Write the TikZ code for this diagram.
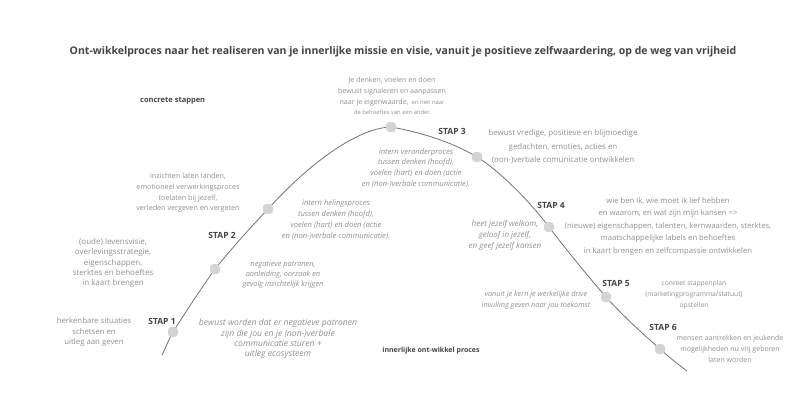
\documentclass[tikz,border=0pt]{standalone}
\usepackage{fontspec}
\setmainfont{Open Sans}
\definecolor{txt}{RGB}{145,145,145}
\definecolor{lbl}{RGB}{68,68,68}
\definecolor{crv}{RGB}{115,115,115}
\definecolor{dotc}{RGB}{212,212,212}
\newcommand{\fs}[2]{\fontsize{#1}{#2}\selectfont}
\begin{document}
\begin{tikzpicture}[x=1pt,y=-1pt,
  body/.style={text=txt, align=center, inner sep=0pt},
  it/.style={text=txt, align=center, inner sep=0pt, font=\itshape},
  lab/.style={text=lbl, font=\fontsize{8.5}{10}\selectfont\bfseries, inner sep=0pt},
  ttl/.style={text=lbl, font=\fontsize{10.5}{12}\selectfont\bfseries, inner sep=0pt},
  dotbox/.style={rectangle, rounded corners=3.5pt, fill=dotc, minimum size=10pt, inner sep=0pt},
  curve/.style={draw=crv, line width=0.8pt}]
\useasboundingbox (0,0) rectangle (800,400);
\fill[white] (0,0) rectangle (800,400);
% curve points
\coordinate (c0) at (162,355);
\coordinate (p1) at (173,332);
\coordinate (p2) at (215,269);
\coordinate (p3) at (268,209);
\coordinate (p4) at (391,127);
\coordinate (p5) at (477,157);
\coordinate (p6) at (549,227);
\coordinate (p7) at (606,297);
\coordinate (p8) at (660,349);
\coordinate (c9) at (687,371);
\draw[curve] (c0) .. controls (166,347) and (169,339) .. (p1)
  .. controls (187,310) and (200,290) .. (p2)
  .. controls (232,248) and (250,228) .. (p3)
  .. controls (305,168) and (355,128) .. (p4)
  .. controls (420,132) and (452,142) .. (p5)
  .. controls (497,169) and (528,199) .. (p6)
  .. controls (568,252) and (587,275) .. (p7)
  .. controls (625,318) and (642,333) .. (p8)
  .. controls (670,358) and (679,365) .. (c9);
\foreach \i in {1,...,8} \node[dotbox] (d\i) at (p\i) {};
% title and headings
\node[ttl] (title) at (403,52) {Ont-wikkelproces naar het realiseren van je innerlijke missie en visie, vanuit je positieve zelfwaardering, op de weg van vrijheid};
\node[lab, font=\fontsize{7.5}{9}\selectfont\bfseries, anchor=west] (conc) at (140,101) {concrete stappen};
\node[lab, font=\fontsize{7}{9}\selectfont\bfseries] (inner) at (431,351) {innerlijke ont-wikkel proces};
% STAP labels
\node[lab] (s1) at (162,321) {STAP 1};
\node[lab] (s2) at (222,235) {STAP 2};
\node[lab] (s3) at (452,131) {STAP 3};
\node[lab] (s4) at (551,205) {STAP 4};
\node[lab] (s5) at (616,283) {STAP 5};
\node[lab] (s6) at (663,327) {STAP 6};
% texts
\node[body, font=\fs{7.1}{10.7}] (t0) at (392,96) {Je denken, voelen en doen\\bewust signaleren en aanpassen\\naar je eigenwaarde, {\fs{5.8}{7} en niet naar}\\{\fs{5.8}{7} de behoeftes van een ander.}};
\node[body, font=\fs{7.9}{13.5}] (t3) at (563,147) {bewust vredige, positieve en blijmoedige\\gedachten, emoties, acties en\\(non-)verbale comunicatie ontwikkelen};
\node[it, font=\fs{7.6}{10.7}\itshape] (i3) at (416,168) {intern veranderproces\\tussen denken (hoofd),\\voelen (hart) en doen (actie\\en (non-)verbale communicatie).};
\node[body, font=\fs{7.2}{10.7}] (t2b) at (188,193) {inzichten laten landen,\\emotioneel verwerkingsproces\\toelaten bij jezelf,\\verleden vergeven en vergeten};
\node[it, font=\fs{7.6}{11}\itshape] (i2b) at (336,220) {intern helingsproces\\tussen denken (hoofd),\\voelen (hart) en doen (actie\\en (non-)verbale communicatie).};
\node[body, font=\fs{8}{10.2}] (t2) at (113,263) {(oude) levensvisie,\\overlevingsstrategie,\\eigenschappen,\\sterktes en behoeftes\\in kaart brengen};
\node[it, font=\fs{7.4}{10}\itshape] (i2) at (283,275) {negatieve patronen,\\aanleiding, oorzaak en\\gevolg inzichtelijk krijgen};
\node[body, font=\fs{7.8}{10.5}] (t1) at (94,332) {herkenbare situaties\\schetsen en\\uitleg aan geven};
\node[it, font=\fs{8.6}{10.3}\itshape] (i1) at (278,339) {bewust worden dat er negatieve patronen\\zijn die jou en je (non-)verbale\\communicatie sturen +\\uitleg ecosysteem};
\node[body, font=\fs{7.7}{12.5}] (t4) at (668,226) {wie ben ik, wie moet ik lief hebben\\en waarom, en wat zijn mijn kansen =>\\(nieuwe) eigenschappen, talenten, kernwaarden, sterktes,\\maatschappelijke labels en behoeftes\\in kaart brengen en zelfcompassie ontwikkelen};
\node[it, font=\fs{8}{11}\itshape] (i4) at (505,235) {heet jezelf welkom,\\geloof in jezelf,\\en geef jezelf kansen};
\node[body, font=\fs{6.7}{11}] (t5) at (694,295) {conreet stappenplan\\(marketingprogramma/statuut)\\opstellen};
\node[it, font=\fs{7.3}{11}\itshape] (i5) at (536,300) {vanuit je kern je werkelijke drive\\invulling geven naar jou toekomst};
\node[body, font=\fs{7}{11}] (t6) at (730,349) {mensen aantrekken en jeukende\\mogelijkheden nu vrij geboren\\laten worden};
\end{tikzpicture}
\end{document}
